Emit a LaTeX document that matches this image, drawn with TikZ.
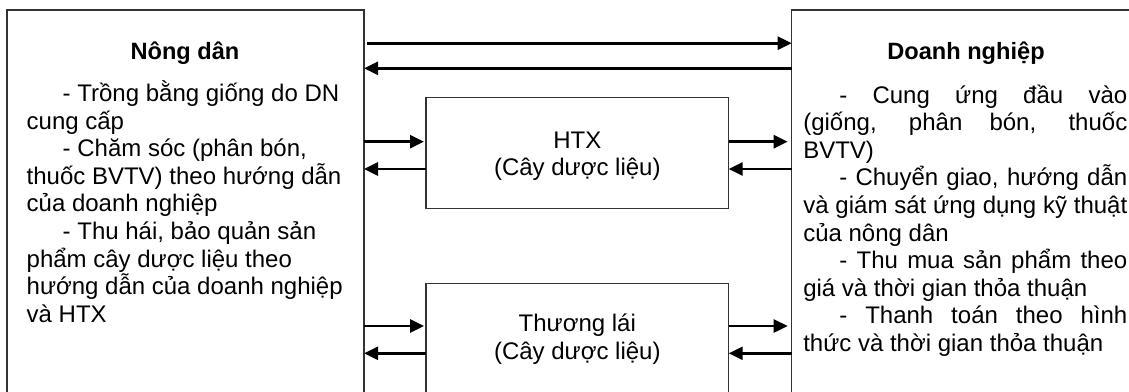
\documentclass[tikz,border=0pt]{standalone}
\usepackage{fontspec}
\setmainfont{Liberation Sans}
\usetikzlibrary{arrows.meta}
\definecolor{boxgray}{HTML}{333333}
\newcommand\myfont{\fontsize{24}{27.6}\selectfont}
\newcommand\mytitlefont{\fontsize{23.6}{27.6}\selectfont\bfseries}
\hbadness=10000
\tolerance=10000
\begin{document}
\begin{tikzpicture}[x=1pt,y=-1pt,
  box/.style={draw=boxgray,line width=1.3pt,inner sep=0pt,outer sep=0pt,anchor=north west},
  arr/.style={line width=2.6pt,-{Triangle[length=14pt,width=13pt]}},
  txt/.style={inner sep=0pt,outer sep=0pt,font=\myfont}]
\useasboundingbox (0,0) rectangle (1129,391);
\begin{scope}
\clip (0,0) rectangle (1129,391);
% boxes
\node[box,minimum width=357pt,minimum height=420pt] (nd) at (7,10) {};
\node[box,minimum width=350pt,minimum height=420pt] (dn) at (791.7,10) {};
\node[box,minimum width=302.7pt,minimum height=111pt] (htx) at (426,97.3) {};
\node[box,minimum width=302.7pt,minimum height=140pt] (tl) at (426,283.3) {};
% top arrows
\draw[arr,shorten <=3pt] (nd.east |- 0,43.2) -- (dn.west |- 0,43.2);
\draw[arr] (dn.west |- 0,68.3) -- (nd.east |- 0,68.3);
% HTX arrows
\draw[arr,shorten >=2pt] (nd.east |- 0,141.7) -- (htx.west |- 0,141.7);
\draw[arr] (htx.west |- 0,169) -- (nd.east |- 0,169);
\draw[arr,shorten >=4pt] (htx.east |- 0,141.7) -- (dn.west |- 0,141.7);
\draw[arr] (dn.west |- 0,169) -- (htx.east |- 0,169);
% Thuong lai arrows
\draw[arr,shorten >=2pt] (nd.east |- 0,326) -- (tl.west |- 0,326);
\draw[arr] (tl.west |- 0,353.3) -- (nd.east |- 0,353.3);
\draw[arr,shorten >=4pt] (tl.east |- 0,326) -- (dn.west |- 0,326);
\draw[arr] (dn.west |- 0,353.3) -- (tl.east |- 0,353.3);
% titles
\node[txt,font=\mytitlefont,anchor=base] (t1) at (185,59.3) {Nông dân};
\node[txt,font=\mytitlefont,anchor=base] (t2) at (966,59.5) {Doanh nghiệp};
% left text
\node[txt,anchor=base west] (lt) at (26.7,101.5) {\begin{minipage}[t]{335pt}\myfont\raggedright
\hspace*{36pt}- Trồng bằng giống do DN\\
cung cấp\\
\hspace*{36pt}- Chăm sóc (phân bón,\\
thuốc BVTV) theo hướng dẫn\\
của doanh nghiệp\\
\hspace*{36pt}- Thu hái, bảo quản sản\\
phẩm cây dược liệu theo\\
hướng dẫn của doanh nghiệp\\
và HTX\end{minipage}};
% right text
\node[txt,anchor=base west] (rt) at (803.3,103) {\begin{minipage}[t]{324pt}\myfont\parindent=0pt
\hspace*{36pt}- Cung ứng đầu vào\linebreak (giống, phân bón, thuốc\linebreak BVTV)\par
\hspace*{36pt}- Chuyển giao, hướng dẫn\linebreak và giám sát ứng dụng kỹ thuật\linebreak của nông dân\par
\hspace*{36pt}- Thu mua sản phẩm theo\linebreak giá và thời gian thỏa thuận\par
\hspace*{36pt}- Thanh toán theo hình\linebreak thức và thời gian thỏa thuận\end{minipage}};
% middle texts
\node[txt,anchor=base] (ht) at (577.3,148.3) {\begin{tabular}[t]{@{}c@{}}HTX\\(Cây dược liệu)\end{tabular}};
\node[txt,anchor=base] (tt) at (577.3,331.7) {\begin{tabular}[t]{@{}c@{}}Thương lái\\(Cây dược liệu)\end{tabular}};
\end{scope}
\end{tikzpicture}
\end{document}
